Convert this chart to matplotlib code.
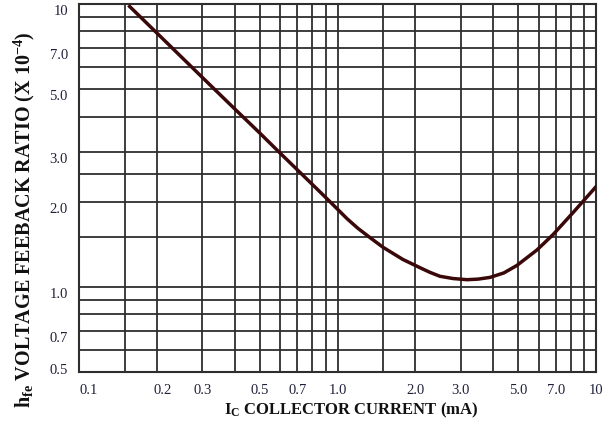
import matplotlib
matplotlib.use("Agg")
import matplotlib.pyplot as plt
from matplotlib.ticker import FixedLocator
from matplotlib.transforms import ScaledTranslation

plt.rcParams["font.family"] = ["Liberation Serif", "DejaVu Serif"]
plt.rcParams["mathtext.fontset"] = "custom"
plt.rcParams["mathtext.rm"] = "Liberation Serif:bold"
plt.rcParams["mathtext.it"] = "Liberation Serif:bold"
plt.rcParams["mathtext.bf"] = "Liberation Serif:bold"

# collector current (mA) vs h_fe voltage feedback ratio (x 10^-4)
ic_ma = [0.157, 0.2, 0.3, 0.4, 0.5, 0.6, 0.7, 0.8, 0.92, 1.09, 1.2, 1.34, 1.5,
         1.79, 2.08, 2.28, 2.49, 2.8, 3.17, 3.5, 3.89, 4.4, 4.94, 5.91, 6.82,
         8.15, 10.0]
hre = [9.8, 7.9, 5.5, 4.26, 3.5, 2.97, 2.59, 2.3, 2.03, 1.74, 1.61, 1.49, 1.38,
       1.25, 1.17, 1.125, 1.09, 1.07, 1.06, 1.065, 1.08, 1.12, 1.19, 1.35, 1.53,
       1.83, 2.26]

x_labels = [0.1, 0.2, 0.3, 0.5, 0.7, 1.0, 2.0, 3.0, 5.0, 7.0, 10]
x_label_text = ["0.1", "0.2", "0.3", "0.5", "0.7", "1.0", "2.0", "3.0", "5.0", "7.0", "10"]
x_grid = [0.15, 0.2, 0.3, 0.4, 0.5, 0.6, 0.7, 0.8, 0.9, 1.0, 1.5,
          2, 3, 4, 5, 6, 7, 8, 9]
y_labels = [0.5, 0.7, 1.0, 2.0, 3.0, 5.0, 7.0, 10]
y_label_text = ["0.5", "0.7", "1.0", "2.0", "3.0", "5.0", "7.0", "10"]
y_grid = [0.6, 0.7, 0.8, 0.9, 1.0, 1.5, 2, 2.5, 3, 4, 5, 6, 7, 8, 9]

grid_col = "#2e2e2e"
tick_col = "#20203a"

fig = plt.figure(figsize=(6.1, 4.27), dpi=100)
ax = fig.add_axes([79 / 610, 1 - 373 / 427, 517 / 610, 368 / 427])
ax.set_xscale("log")
ax.set_yscale("log")
ax.set_xlim(0.1, 10)
ax.set_ylim(0.5, 10)

for v in x_grid:
    ax.axvline(v, color=grid_col, lw=1.3, zorder=1)
for v in y_grid:
    ax.axhline(v, color=grid_col, lw=1.3, zorder=1)

ax.plot(ic_ma, hre, color="#3a0808", lw=2.5, solid_joinstyle="round", zorder=3)

ax.minorticks_off()
ax.xaxis.set_major_locator(FixedLocator(x_labels))
ax.yaxis.set_major_locator(FixedLocator(y_labels))
ax.set_xticklabels(x_label_text)
ax.set_yticklabels(y_label_text)
ax.tick_params(which="both", length=0, labelsize=10.5, labelcolor=tick_col)
ax.tick_params(axis="x", pad=8)
ax.tick_params(axis="y", pad=8)

# nudge labels so they sit just below their grid lines
xl = ax.get_xticklabels()
xl[0].set_horizontalalignment("left")
xl[1].set_transform(xl[1].get_transform() + ScaledTranslation(6 / 100, 0, fig.dpi_scale_trans))
yl = ax.get_yticklabels()
for i, t in enumerate(yl):
    dy = 4 if i == 0 else -5
    t.set_transform(t.get_transform() + ScaledTranslation(0, dy / 100, fig.dpi_scale_trans))

for s in ax.spines.values():
    s.set_color(grid_col)
    s.set_linewidth(1.5)

fig.text(351 / 610, 1 - 410 / 427, r"I$_{\mathrm{C}}$ COLLECTOR CURRENT (mA)",
         ha="center", va="center", fontsize=12, fontweight="bold", color="#111111")
fig.text(24 / 610, 1 - 220 / 427,
         r"h$_{\mathrm{fe}}$ VOLTAGE FEEBACK RATIO (X 10$^{\mathrm{-4}}$)",
         ha="center", va="center", rotation=90, fontsize=14.5, fontweight="bold",
         color="#111111")

fig.savefig("out.png", dpi=100)
